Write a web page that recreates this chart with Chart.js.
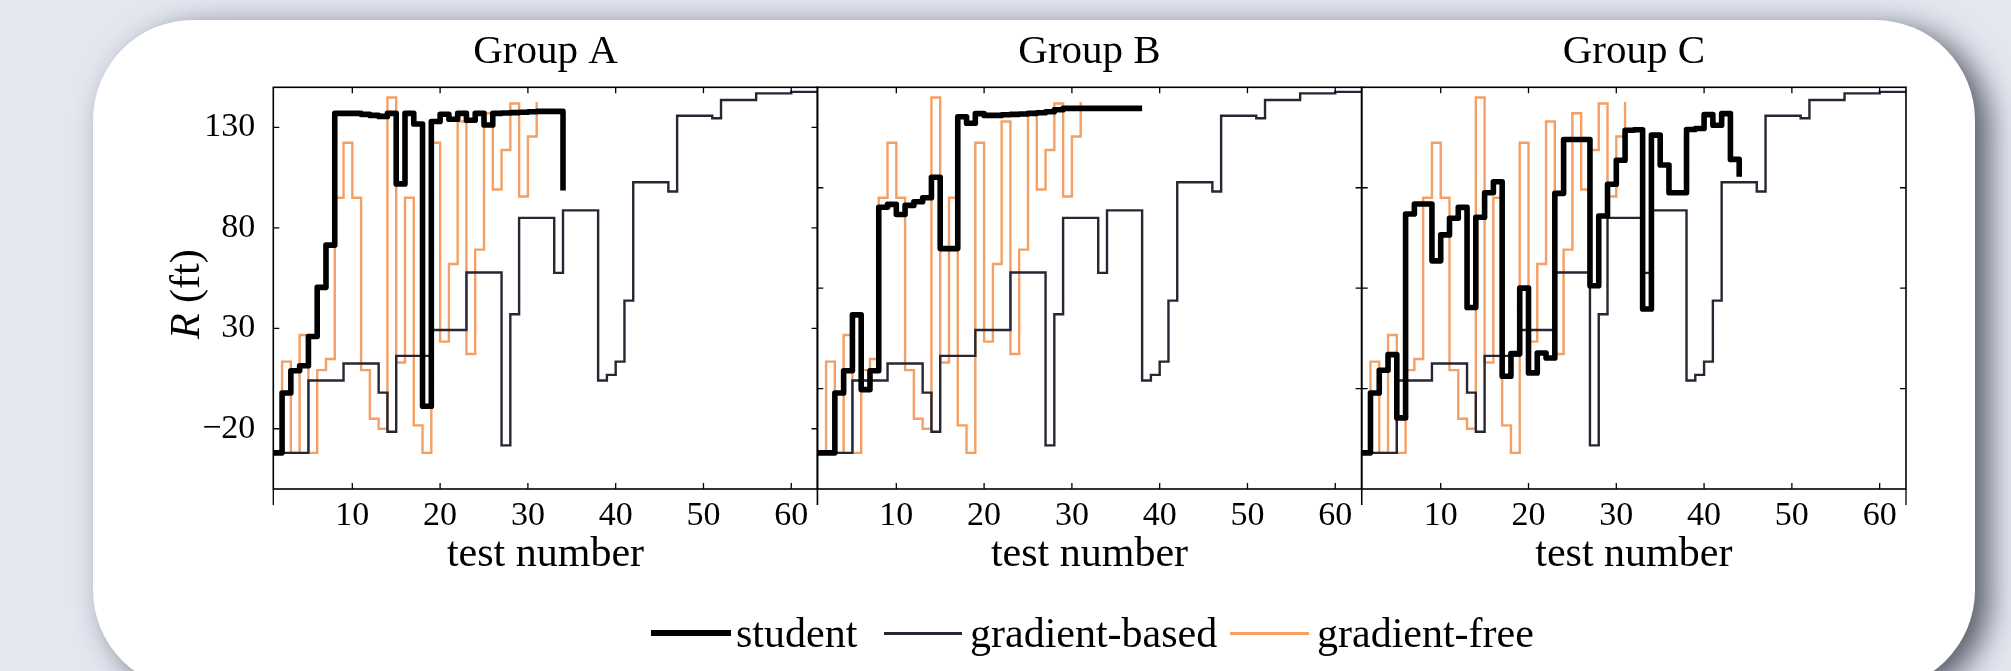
<!DOCTYPE html>
<html><head><meta charset="utf-8">
<script src="https://cdn.jsdelivr.net/npm/chart.js@4.4.0/dist/chart.umd.min.js"></script>
<style>
html,body{margin:0;padding:0;width:2011px;height:671px;overflow:hidden;background:#e3e7f0;}
#card{position:absolute;left:93px;top:20px;width:1882px;height:670px;border-radius:100px;background:#fff;box-shadow:14px 8px 30px rgba(20,25,40,0.68);}
canvas{position:absolute;}
.lg{position:absolute;font-family:'Liberation Serif',serif;font-size:42px;line-height:42px;color:#000;white-space:nowrap;}
.ln{position:absolute;}
</style></head><body>
<div id="card"></div>
<canvas id="cA"></canvas>
<canvas id="cB"></canvas>
<canvas id="cC"></canvas>
<div class="ln" style="left:651px;top:630px;width:80px;height:6px;background:#000"></div>
<div class="lg" style="left:736px;top:612px">student</div>
<div class="ln" style="left:884px;top:632px;width:78px;height:2.5px;background:#262634"></div>
<div class="lg" style="left:970px;top:612px">gradient-based</div>
<div class="ln" style="left:1230px;top:632px;width:79px;height:2.5px;background:#f4a064"></div>
<div class="lg" style="left:1317px;top:612px">gradient-free</div>
<script>
// ---- data ----
const testNumbers = [1,2,3,4,5,6,7,8,9,10,11,12,13,14,15,16,17,18,19,20,21,22,23,24,25,26,27,28,29,30,31,32,33,34,35,36,37,38,39,40,41,42,43,44,45,46,47,48,49,50,51,52,53,54,55,56,57,58,59,60,61,62,63];
const groupNames = ['Group A', 'Group B', 'Group C'];
const seriesNames = ['student', 'gradient-based', 'gradient-free'];
const studentA = [-32,-2.2,8.9,11.4,25.9,50.4,71.4,137,137,137,136.5,136,135.5,137,101.9,137,131.7,-8.8,133,136.6,134.1,137,133.6,137,131.2,137,137.2,137.4,137.6,137.8,138,138,138,98.6];
const studentB = [-32,-32,-2.2,8.9,36.7,-0.5,8.9,90.3,91.7,86.7,91.2,93,95,105.2,69.7,69.7,135.3,132.1,136.9,136,136,136.3,136.5,136.7,137,137.3,137.8,138.8,139.5,139.5,139.5,139.5,139.5,139.5,139.5,139.5,139.5,139.5];
const studentC = [-32,-2.2,9.1,16.9,-14.6,86.9,91.9,91.9,63.6,76.5,84.8,90.2,40.4,85.3,97.5,103,6.1,17.4,50,7.8,17.7,15.2,97.2,124,124,124,51.2,85.9,101.7,113.7,128.6,128.9,39.6,126.2,111.3,97.5,97.5,129,129.5,136.4,131.1,136.9,114.1,105.5];
const gradientBased = [-32,-32,-32,-32,4,4,4,4,12.5,12.5,12.5,12.5,-2,-21.5,16.3,16.3,16.3,16.3,29.2,29.2,29.2,29.2,57.8,57.8,57.8,57.8,-28.3,37,85,85,85,85,57.6,88.7,88.7,88.7,88.7,4,6.8,13.4,43.8,102.7,102.7,102.7,102.7,98.1,135.8,135.8,135.8,135.8,134.6,143.7,143.7,143.7,143.7,147,147,147,147,147.7,147.7,147.7,147.7];
const gradientFree = [-32,13.4,-32,26.7,-32,9.2,14.7,95,122.4,95,9.2,-15,-20,144.9,13,95,-18.3,-32,122.4,23.4,62,133,17.2,69.2,137.1,99.1,118.8,141.9,95.6,125.5,142.7];
const xTickValues = [10,20,30,40,50,60];
const yTicksA = [-20,30,80,130];
const yTicksBC = [0,50,100];
const xRange = [1, 63];
const yRange = [-50, 150];

// ---- layout ----
const plotTop = 87.3, plotBottom = 489, plotW = 544.3;
const plotLefts = [273.3, 817.3, 1361.7];
const canvasTop = 20, canvasH = 620;
const FONT = '"Liberation Serif", "Times New Roman", serif';

const pts = arr => arr.map((v, i) => ({x: testNumbers[i], y: v}));
const fmt = v => v < 0 ? '\u2212' + Math.abs(v) : String(v);

const framePlugin = {
  id: 'frame',
  afterDraw(chart, args, o) {
    const {ctx, chartArea: a} = chart;
    const x = chart.scales.x, y = chart.scales.y;
    ctx.save();
    ctx.strokeStyle = '#000';
    ctx.lineWidth = 1.6;
    ctx.strokeRect(a.left, a.top, a.right - a.left, a.bottom - a.top);
    ctx.lineWidth = 1.3;
    ctx.beginPath();
    xTickValues.forEach(v => {
      const px = x.getPixelForValue(v);
      ctx.moveTo(px, a.bottom); ctx.lineTo(px, a.bottom - 6);
      ctx.moveTo(px, a.top); ctx.lineTo(px, a.top + 6);
    });
    o.yTicks.forEach(v => {
      const py = y.getPixelForValue(v);
      ctx.moveTo(a.left, py); ctx.lineTo(a.left + 6, py);
      ctx.moveTo(a.right, py); ctx.lineTo(a.right - 6, py);
    });
    ctx.moveTo(a.left, a.bottom); ctx.lineTo(a.left, a.bottom + 16);
    ctx.moveTo(a.right, a.bottom); ctx.lineTo(a.right, a.bottom + 16);
    ctx.stroke();
    ctx.fillStyle = '#000';
    ctx.textAlign = 'center';
    ctx.textBaseline = 'alphabetic';
    ctx.font = '41px ' + FONT;
    ctx.fillText(o.title, (a.left + a.right) / 2, 63.3 - canvasTop);
    ctx.font = '42px ' + FONT;
    ctx.fillText('test number', (a.left + a.right) / 2, 566 - canvasTop);
    if (o.ylabel) {
      const bx = a.left - 74, cy = (a.top + a.bottom) / 2 + 6;
      ctx.translate(bx, cy);
      ctx.rotate(-Math.PI / 2);
      ctx.textAlign = 'left';
      ctx.font = 'italic 42px ' + FONT;
      const w1 = ctx.measureText('R').width;
      ctx.font = '42px ' + FONT;
      const w2 = ctx.measureText(' (ft)').width;
      const s = -(w1 + w2) / 2;
      ctx.font = 'italic 42px ' + FONT;
      ctx.fillText('R', s, 0);
      ctx.font = '42px ' + FONT;
      ctx.fillText(' (ft)', s + w1, 0);
    }
    ctx.restore();
  }
};

const students = [studentA, studentB, studentC];
['cA', 'cB', 'cC'].forEach((id, i) => {
  const cv = document.getElementById(id);
  const pl = plotLefts[i];
  const cl = Math.floor(pl - 140);
  const cw = 140 + Math.ceil(plotW) + 30;
  cv.width = cw; cv.height = canvasH;
  cv.style.left = cl + 'px'; cv.style.top = canvasTop + 'px';
  cv.style.width = cw + 'px'; cv.style.height = canvasH + 'px';
  const yW = pl - cl;
  const padR = cw - yW - plotW;
  const yT = i === 0 ? yTicksA : yTicksBC;
  new Chart(cv, {
    type: 'line',
    data: {
      datasets: [
        {label: seriesNames[0], data: pts(students[i]), borderColor: '#000', borderWidth: 5.6, stepped: 'before', pointRadius: 0, borderJoinStyle: 'round', borderCapStyle: 'butt'},
        {label: seriesNames[1], data: pts(gradientBased), borderColor: '#262634', borderWidth: 2.4, stepped: 'before', pointRadius: 0},
        {label: seriesNames[2], data: pts(gradientFree), borderColor: '#f4a064', borderWidth: 2.4, stepped: 'before', pointRadius: 0}
      ]
    },
    options: {
      responsive: false, animation: false, events: [],
      layout: {padding: {left: 0, right: padR, top: plotTop - canvasTop, bottom: 0}},
      plugins: {legend: {display: false}, tooltip: {enabled: false}, title: {display: false},
        frame: {title: groupNames[i], yTicks: yT, ylabel: i === 0}},
      scales: {
        x: {type: 'linear', min: xRange[0], max: xRange[1],
          grid: {display: false}, border: {display: false},
          afterBuildTicks: s => { s.ticks = xTickValues.map(v => ({value: v})); },
          afterFit: s => { s.height = canvasTop + canvasH - plotBottom; },
          ticks: {font: {family: FONT, size: 34, lineHeight: 1}, color: '#000', padding: 2, maxRotation: 0, autoSkip: false, callback: v => fmt(v)}},
        y: {type: 'linear', min: yRange[0], max: yRange[1],
          grid: {display: false}, border: {display: false},
          afterBuildTicks: s => { s.ticks = yT.map(v => ({value: v})); },
          afterFit: s => { s.width = yW; },
          ticks: {display: i === 0, font: {family: FONT, size: 34, lineHeight: 1}, color: '#000', padding: 10, autoSkip: false, callback: v => fmt(v)}}
      }
    },
    plugins: [framePlugin]
  });
});
</script>
</body></html>
